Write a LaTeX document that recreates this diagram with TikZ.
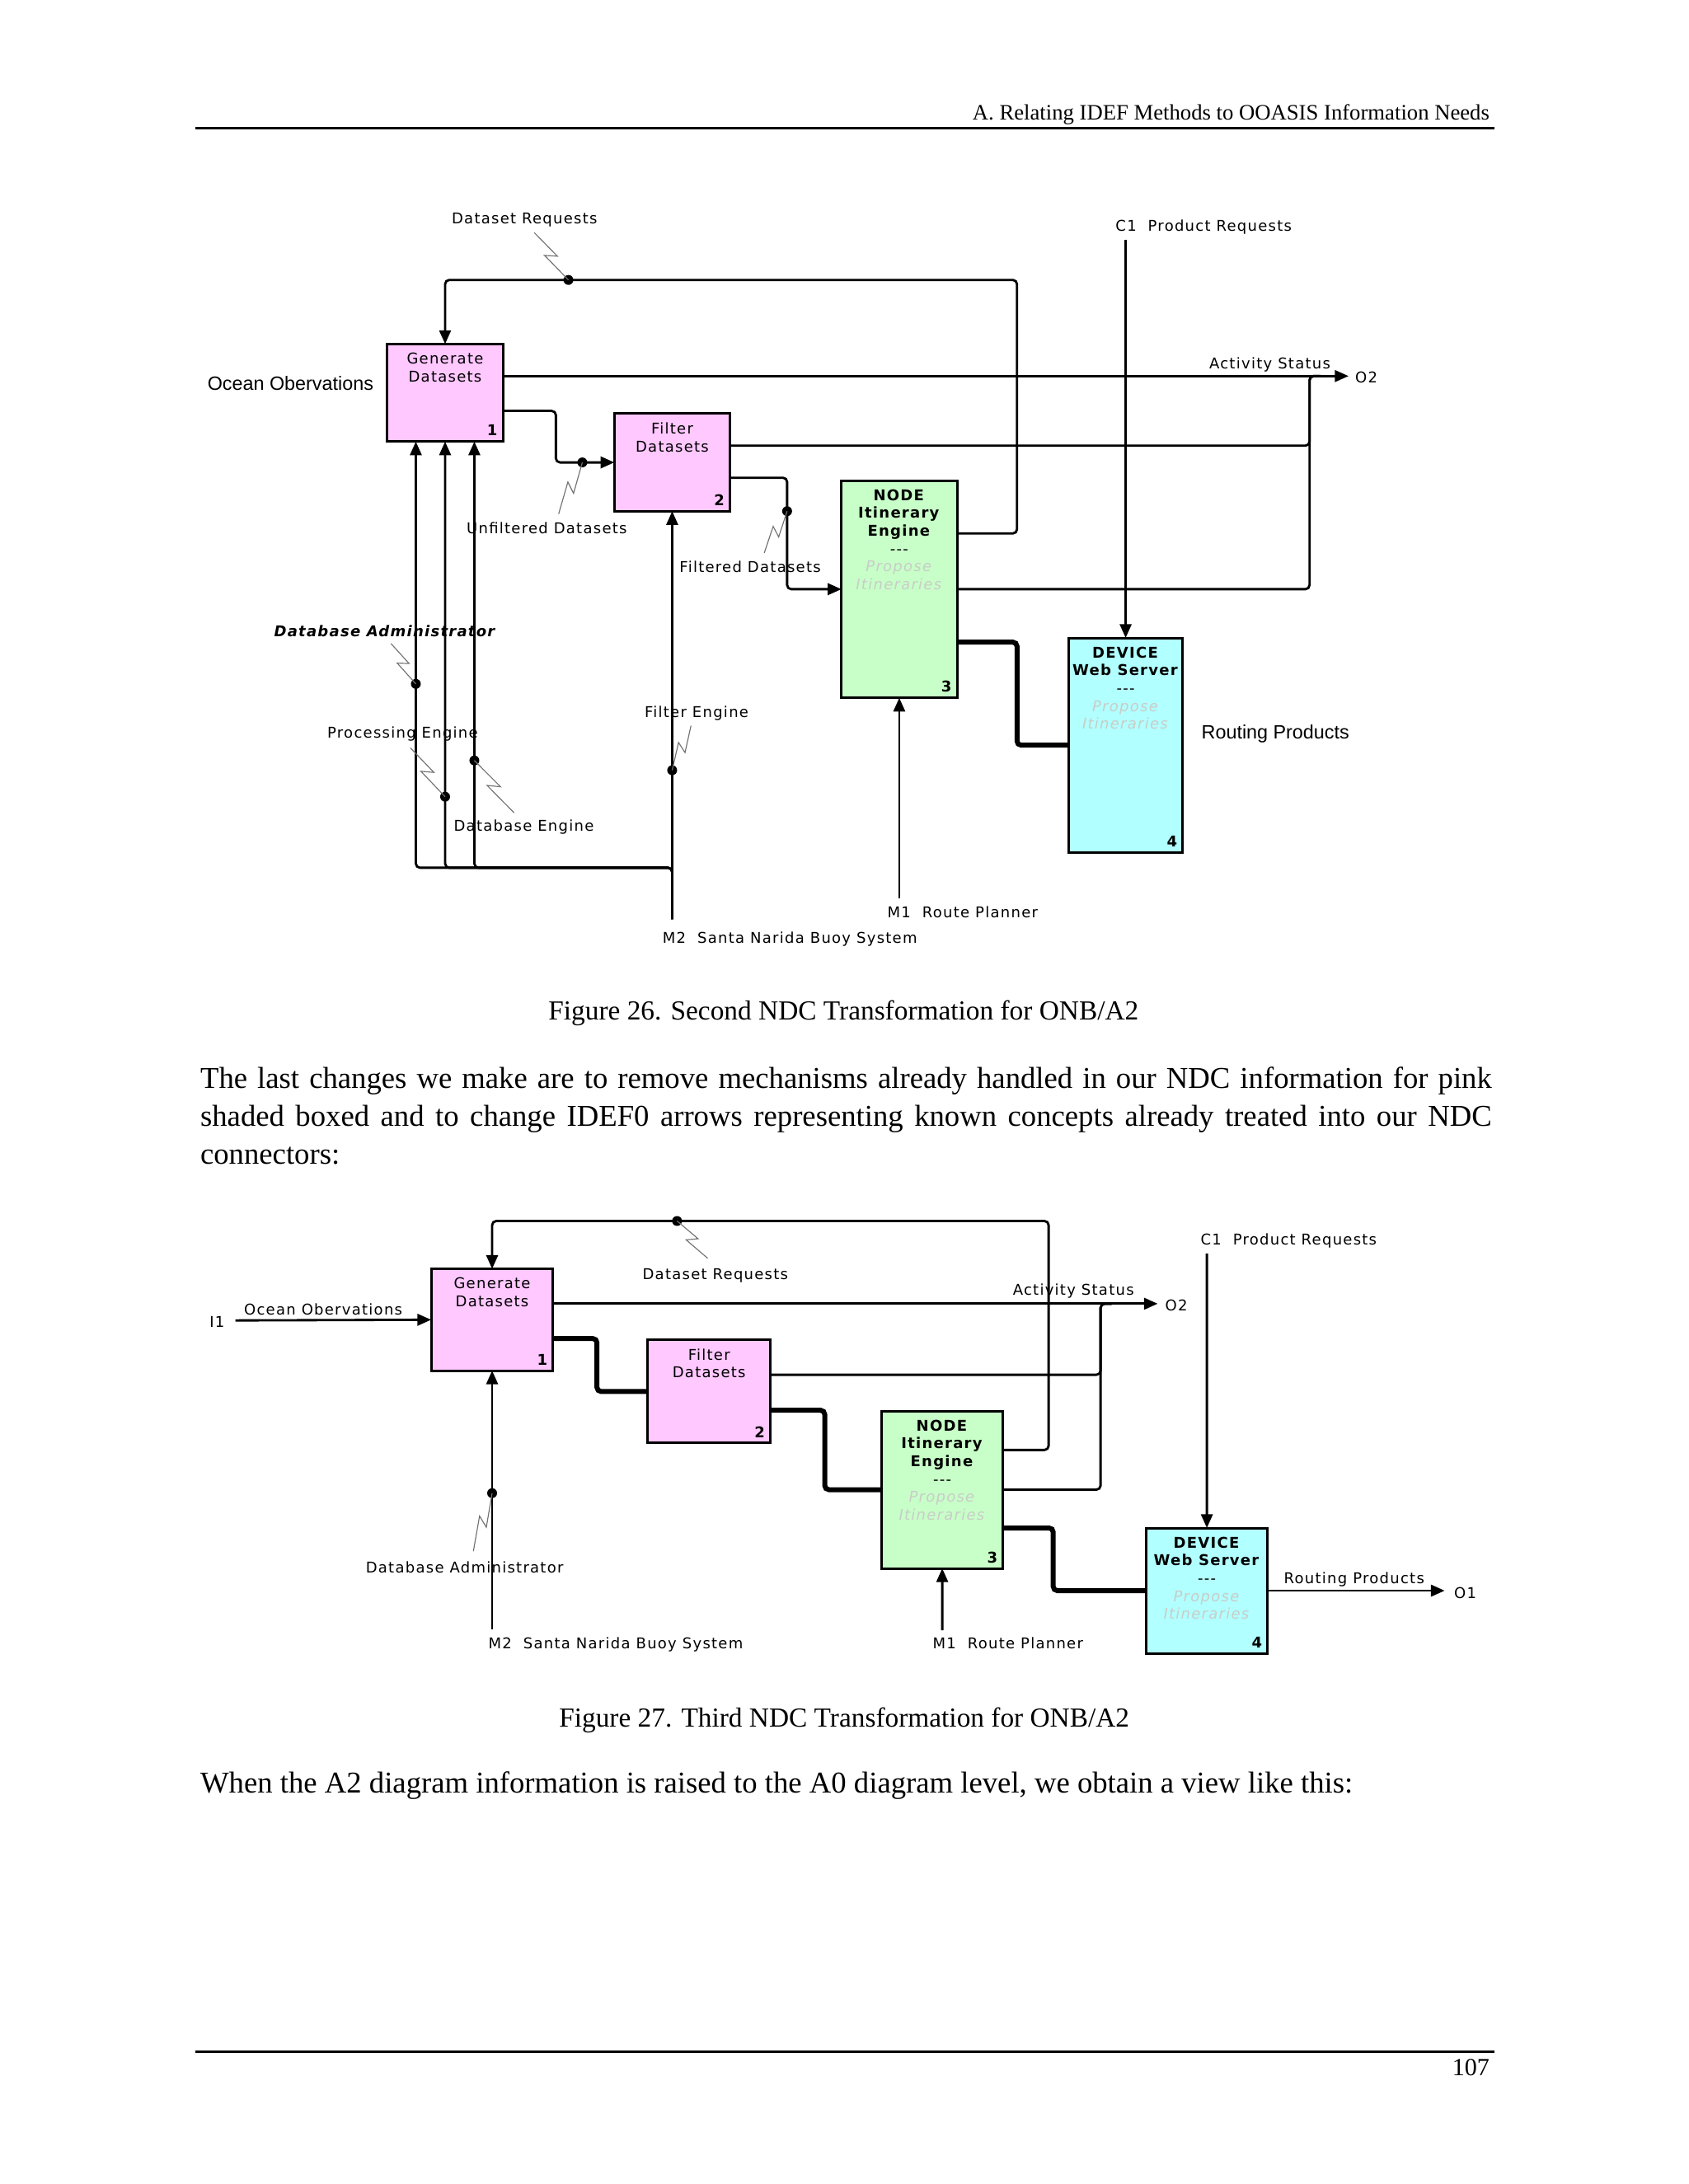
\documentclass[tikz,border=0pt]{standalone}
\usepackage{fontspec}
\setmainfont{Liberation Serif}
\newfontfamily\verd{DejaVu Sans}[LetterSpace=7]
\newfontfamily\arl{Liberation Sans}
\usetikzlibrary{arrows.meta, calc, positioning}
\definecolor{pinkbox}{RGB}{255,200,255}
\definecolor{greenbox}{RGB}{200,255,200}
\definecolor{cyanbox}{RGB}{178,255,255}
\definecolor{ghost}{RGB}{200,205,200}
\newcommand\px{0.017813cm}
\newcommand\dfont{\verd\fontsize{5.4}{6.5}\selectfont}
\newcommand\squig[2]{\draw[squigline] (#1) -- ($(#1)!0.56!(#2)!1.8pt!90:(#2)$) -- ($(#1)!0.42!(#2)!1.8pt!-90:(#2)$) -- (#2);}

\begin{document}
\begin{tikzpicture}[x=\px, y=-\px, >={Triangle[length=5pt,width=4.2pt]}, line width=0.85pt, rounded corners=1.5pt,
  box/.style={draw, line width=0.9pt, sharp corners, anchor=north west, inner sep=0pt, outer sep=0pt},
  boxtext/.style={anchor=north, align=center, inner sep=0pt, font=\dfont},
  boxnum/.style={anchor=south east, inner sep=1.6pt, font=\dfont\bfseries},
  lbl/.style={inner sep=0pt, font=\dfont},
  biglbl/.style={inner sep=0pt, font=\arl\fontsize{7}{8.4}\selectfont},
  heavy/.style={line width=1.8pt},
  squigline/.style={draw=black!55, line width=0.35pt, sharp corners},
  dot/.style={circle, fill, inner sep=0pt, minimum size=3.6pt}]
\useasboundingbox (0,0) rectangle (1212,1568);

% page head and foot
\node[anchor=base east, inner sep=0pt, font=\fontsize{8}{9.6}\selectfont] (head) at (1070,86) {A. Relating IDEF Methods to OOASIS Information Needs};
\draw[line width=1pt, sharp corners] (140,92) -- (1073,92);
\draw[line width=0.7pt, sharp corners] (140,1473) -- (1073,1473);
\node[anchor=base east, inner sep=0pt, font=\fontsize{9}{10}\selectfont] (pageno) at (1070,1490) {107};

% ---------- first diagram ----------
\node[box, fill=pinkbox, minimum width=83*\px, minimum height=70*\px] (gen1) at (278,247) {};
\node[box, fill=pinkbox, minimum width=83*\px, minimum height=70*\px] (fil1) at (441,297) {};
\node[box, fill=greenbox, minimum width=83*\px, minimum height=156*\px] (node1) at (604,345) {};
\node[box, fill=cyanbox, minimum width=82*\px, minimum height=154*\px] (dev1) at (767,458) {};

\node[boxtext] at ($(gen1.north)+(0,5.5)$) {Generate\\Datasets};
\node[boxtext] at ($(fil1.north)+(0,5.5)$) {Filter\\Datasets};
\node[boxtext] at ($(node1.north)+(0,5.5)$) {\textbf{NODE}\\\textbf{Itinerary}\\\textbf{Engine}\\-{}-{}-\\\textcolor{ghost}{\textit{Propose}}\\\textcolor{ghost}{\textit{Itineraries}}};
\node[boxtext] at ($(dev1.north)+(0,5.5)$) {\textbf{DEVICE}\\\textbf{Web Server}\\-{}-{}-\\\textcolor{ghost}{\textit{Propose}}\\\textcolor{ghost}{\textit{Itineraries}}};
\node[boxnum] at (gen1.south east) {1};
\node[boxnum] at (fil1.south east) {2};
\node[boxnum] at (node1.south east) {3};
\node[boxnum] at (dev1.south east) {4};

\node[lbl] (dsreq1) at (376.5,158) {Dataset Requests};
\node[lbl] (c1lbl1) at (864,163) {C1~~Product Requests};
\node[biglbl] (ocean1) at (208.5,275) {Ocean Obervations};
\node[lbl] (actst1) at (911.5,262) {Activity Status};
\node[lbl, anchor=west] (o2lbl1) at (972,271) {O2};
\node[lbl] (unfil1) at (392.5,379) {Unfiltered Datasets};
\node[lbl] (filt1) at (538.5,407) {Filtered Datasets};
\node[lbl, font=\dfont\bfseries\itshape] (dbadm1) at (276,453) {Database Administrator};
\node[lbl] (proc1) at (289,527) {Processing Engine};
\node[lbl] (dbeng1) at (376,594) {Database Engine};
\node[lbl] (feng1) at (500,512) {Filter Engine};
\node[biglbl] (route1) at (915.5,527) {Routing Products};
\node[lbl] (m1lbl1) at (691,655) {M1~~Route Planner};
\node[lbl] (m2lbl1) at (567,674) {M2~~Santa Narida Buoy System};

\coordinate (g1o1) at ($(gen1.north east)+(0,23)$);
\coordinate (g1o2) at ($(gen1.north east)+(0,48)$);
\coordinate (f1o1) at ($(fil1.north east)+(0,23)$);
\coordinate (f1o2) at ($(fil1.north east)+(0,46)$);
\coordinate (n1o1) at ($(node1.north east)+(0,38)$);
\coordinate (n1o3) at ($(node1.north east)+(0,116)$);
\coordinate (fb1) at (730,201);
\coordinate (o2tip1) at (968,270);
\coordinate (mrg1) at (940,270);
\coordinate (uf1) at ($(fil1.west)+(-42,0)$);
\coordinate (ff1) at ($(node1.west)+(-39,0)$);
\coordinate (tk1) at ($(dev1.west)+(-37,0)$);
\coordinate (c1s1) at (808,172);
\coordinate (m1s1) at (645.5,645);
\coordinate (m2s1) at (482.5,660);
\coordinate (mj1) at (482.5,623);

\draw[->] (n1o1) -| (fb1) -| (gen1.north);
\draw[->] (g1o1) -- (o2tip1);
\draw (f1o1) -| (mrg1) -- ($(mrg1)+(8,0)$);
\draw (node1.east) -| (mrg1) -- ($(mrg1)+(8,0)$);
\draw[->] (g1o2) -| (uf1) -- (fil1.west);
\draw[->] (f1o2) -| (ff1) -- (node1.west);
\draw[heavy] (n1o3) -| (tk1) -- (dev1.west);
\draw[->] (c1s1) -- (dev1.north);
\draw[->] (m1s1) -- (node1.south);
\draw[->] (m2s1) -- (fil1.south);
\foreach \dx in {-21,0,21}
  \draw[->] (m2s1) -- (mj1) -| ($(gen1.south)+(\dx,0)$);

\coordinate (dsd1) at (408,201);     \coordinate (dss1) at (383.5,167);
\coordinate (ufd1) at ($(fil1.west)+(-23,0)$); \coordinate (ufs1) at (401,369);
\coordinate (ffd1) at (ff1 |- fil1.south);     \coordinate (ffs1) at (548.6,397);
\coordinate (dbad1) at (298.5,491);  \coordinate (dbas1) at (280.6,462);
\coordinate (ped1) at (319.5,572);   \coordinate (pes1) at (294.6,537);
\coordinate (ded1) at (340.5,546);   \coordinate (des1) at (369,583.5);
\coordinate (fed1) at (482.5,553);   \coordinate (fes1) at (496,521);
\foreach \d in {dsd1,ufd1,ffd1,dbad1,ped1,ded1,fed1}
  \node[dot] at (\d) {};
\squig{dss1}{dsd1}
\squig{ufd1}{ufs1}
\squig{ffd1}{ffs1}
\squig{dbas1}{dbad1}
\squig{pes1}{ped1}
\squig{ded1}{des1}
\squig{fes1}{fed1}

\node[anchor=base] (cap1) at (605.5,732) {Figure 26. Second NDC Transformation for ONB/A2};

\node[anchor=north west, inner sep=0pt, text width=927*\px, align=justify, font=\fontsize{11}{13.8}\selectfont] (para) at (143,765)
  {\tolerance=10000 The last changes we make are to remove mechanisms already handled in our NDC information for pink\linebreak shaded boxed and to change IDEF0 arrows representing known concepts already treated into our NDC\linebreak connectors:};

% ---------- second diagram ----------
\node[box, fill=pinkbox, minimum width=87.5*\px, minimum height=73*\px] (gen2) at (309.5,911) {};
\node[box, fill=pinkbox, minimum width=88*\px, minimum height=74*\px] (fil2) at (465,962) {};
\node[box, fill=greenbox, minimum width=87.3*\px, minimum height=113*\px] (node2) at (632.7,1013) {};
\node[box, fill=cyanbox, minimum width=87.4*\px, minimum height=90*\px] (dev2) at (822.6,1097) {};

\node[boxtext] at ($(gen2.north)+(0,5.5)$) {Generate\\Datasets};
\node[boxtext] at ($(fil2.north)+(0,5.5)$) {Filter\\Datasets};
\node[boxtext] at ($(node2.north)+(0,5.5)$) {\textbf{NODE}\\\textbf{Itinerary}\\\textbf{Engine}\\-{}-{}-\\\textcolor{ghost}{\textit{Propose}}\\\textcolor{ghost}{\textit{Itineraries}}};
\node[boxtext] at ($(dev2.north)+(0,5.5)$) {\textbf{DEVICE}\\\textbf{Web Server}\\-{}-{}-\\\textcolor{ghost}{\textit{Propose}}\\\textcolor{ghost}{\textit{Itineraries}}};
\node[boxnum] at (gen2.south east) {1};
\node[boxnum] at (fil2.south east) {2};
\node[boxnum] at (node2.south east) {3};
\node[boxnum] at (dev2.south east) {4};

\node[lbl] (dsreq2) at (513.5,916) {Dataset Requests};
\node[lbl] (c1lbl2) at (925,891) {C1~~Product Requests};
\node[lbl] (i1lbl2) at (155.8,949) {I1};
\node[lbl] (ocean2) at (232,940) {Ocean Obervations};
\node[lbl] (actst2) at (770.5,927) {Activity Status};
\node[lbl, anchor=west] (o2lbl2) at (835.6,937) {O2};
\node[lbl] (route2) at (972,1134) {Routing Products};
\node[lbl, anchor=west] (o1lbl2) at (1043,1144) {O1};
\node[lbl] (dbadm2) at (333.5,1125) {Database Administrator};
\node[lbl] (m2lbl2) at (442,1180.5) {M2~~Santa Narida Buoy System};
\node[lbl] (m1lbl2) at (723.5,1180) {M1~~Route Planner};

\coordinate (g2o1) at ($(gen2.north east)+(0,25)$);
\coordinate (g2o2) at ($(gen2.north east)+(0,50)$);
\coordinate (f2o1) at ($(fil2.north east)+(0,25)$);
\coordinate (f2o2) at ($(fil2.north east)+(0,50.5)$);
\coordinate (n2o1) at ($(node2.north east)+(0,28)$);
\coordinate (n2o3) at ($(node2.north east)+(0,84)$);
\coordinate (fb2) at (752.7,876.6);
\coordinate (o2tip2) at (831,936);
\coordinate (mrg2) at (790,936);
\coordinate (uf2) at ($(fil2.west)+(-36.5,0)$);
\coordinate (ff2) at ($(node2.west)+(-40.7,0)$);
\coordinate (tk2) at ($(dev2.west)+(-66.6,0)$);
\coordinate (o1tip2) at (1037,1142);
\coordinate (i1s2) at (169,948);
\coordinate (c1s2) at (866.3,900);
\coordinate (m1s2) at (676.35,1170.5);
\coordinate (m2s2) at (353.25,1169.5);

\draw[->] (n2o1) -| (fb2) -| (gen2.north);
\draw[->] (g2o1) -- (o2tip2);
\draw (f2o1) -| (mrg2) -- ($(mrg2)+(8,0)$);
\draw (node2.east) -| (mrg2) -- ($(mrg2)+(8,0)$);
\draw[heavy] (g2o2) -| (uf2) -- (fil2.west);
\draw[heavy] (f2o2) -| (ff2) -- (node2.west);
\draw[heavy] (n2o3) -| (tk2) -- (dev2.west);
\draw[->] (dev2.east) -- (o1tip2);
\draw[->] (i1s2) -- (gen2.west);
\draw[->] (c1s2) -- (dev2.north);
\draw[->] (m1s2) -- (node2.south);
\draw[->] (m2s2) -- (gen2.south);

\coordinate (dsd2) at (486,876.6);    \coordinate (dss2) at (508,903.4);
\coordinate (dbad2) at (353.25,1072); \coordinate (dbas2) at (339.8,1113.7);
\foreach \d in {dsd2,dbad2}
  \node[dot] at (\d) {};
\squig{dsd2}{dss2}
\squig{dbad2}{dbas2}

\node[anchor=base] (cap2) at (606,1240) {Figure 27. Third NDC Transformation for ONB/A2};
\node[anchor=base west, inner sep=0pt, font=\fontsize{11}{13.8}\selectfont] (para2) at (143,1287)
  {When the A2 diagram information is raised to the A0 diagram level, we obtain a view like this:};
\end{tikzpicture}
\end{document}
